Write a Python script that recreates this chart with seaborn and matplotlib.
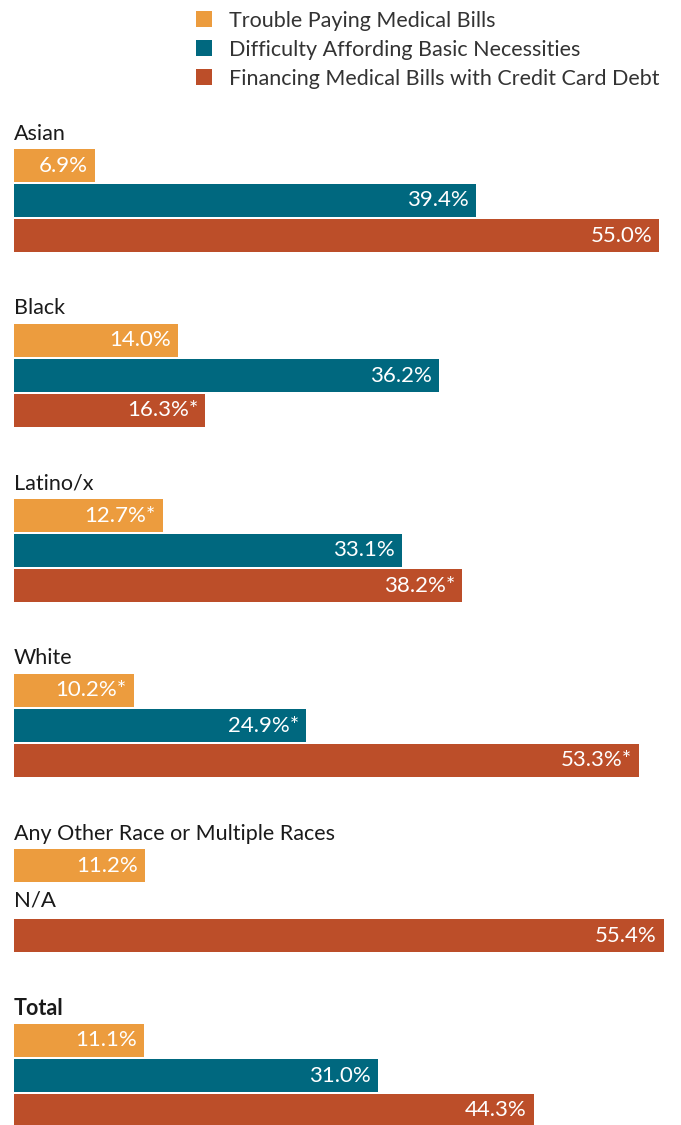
import pandas as pd
import matplotlib.pyplot as plt
import seaborn as sns

groups = ['Asian', 'Black', 'Latino/x', 'White', 'Any Other Race or Multiple Races', 'Total']
series = ['Trouble Paying Medical Bills',
          'Difficulty Affording Basic Necessities',
          'Financing Medical Bills with Credit Card Debt']
trouble = [6.9, 14.0, 12.7, 10.2, 11.2, 11.1]
necessities = [39.4, 36.2, 33.1, 24.9, None, 31.0]
credit = [55.0, 16.3, 38.2, 53.3, 55.4, 44.3]
trouble_sig = [False, False, True, True, False, False]
necessities_sig = [False, False, False, True, False, False]
credit_sig = [False, True, True, True, False, False]

colors = ['#EC9C3E', '#00687F', '#BC4E29']

# layout in pixel units (y axis runs top to bottom)
W, H = 681, 1125
x0 = 14
px_per_unit = (659 - x0) / 55.0
group_pitch = 175
bar_pitch = 35
first_bar = 165.5

rows = []
for g, name in enumerate(groups):
    for k, (vals, sig) in enumerate([(trouble, trouble_sig),
                                     (necessities, necessities_sig),
                                     (credit, credit_sig)]):
        rows.append({'group': name, 'series': series[k], 'value': vals[g],
                     'sig': sig[g], 'pos': first_bar + g * group_pitch + k * bar_pitch})
df = pd.DataFrame(rows)
plot_df = df.dropna(subset=['value'])

plt.rcParams['font.family'] = ['Lato', 'DejaVu Sans']
fig = plt.figure(figsize=(W / 100, H / 100), dpi=100)
ax = fig.add_axes([0, 0, 1, 1])

sns.barplot(data=plot_df, x='value', y='pos', hue='series', hue_order=series,
            palette=colors, orient='h', native_scale=True, dodge=False,
            width=33 / 35, saturation=1, linewidth=0, ax=ax)

ax.set_xlim(-x0 / px_per_unit, (W - x0) / px_per_unit)
ax.set_ylim(H, 0)
ax.axis('off')

for _, r in plot_df.iterrows():
    txt = f"{r['value']:.1f}%" + ('*' if r['sig'] else '')
    ax.annotate(txt, xy=(r['value'], r['pos']), xytext=(-5, 0),
                textcoords='offset points', ha='right', va='center',
                color='white', fontsize=16)

for _, r in df[df['value'].isna()].iterrows():
    ax.annotate('N/A', xy=(0, r['pos']), xytext=(0, 0), textcoords='offset points',
                ha='left', va='center', color='#1a1a1a', fontsize=16)

for g, name in enumerate(groups):
    ax.annotate(name, xy=(0, first_bar + g * group_pitch - 32), xytext=(0, 0),
                textcoords='offset points', ha='left', va='center',
                color='#1a1a1a', fontsize=15.5,
                fontweight='bold' if name == 'Total' else 'normal')

sns.move_legend(ax, 'upper left', bbox_to_anchor=(185 / W, 1.0),
                title=None, frameon=False, fontsize=15.5, handlelength=0.75,
                handleheight=0.75, handletextpad=0.78, labelspacing=0.42,
                labelcolor='#333333', borderpad=0)

plt.savefig('out.png', dpi=100)
